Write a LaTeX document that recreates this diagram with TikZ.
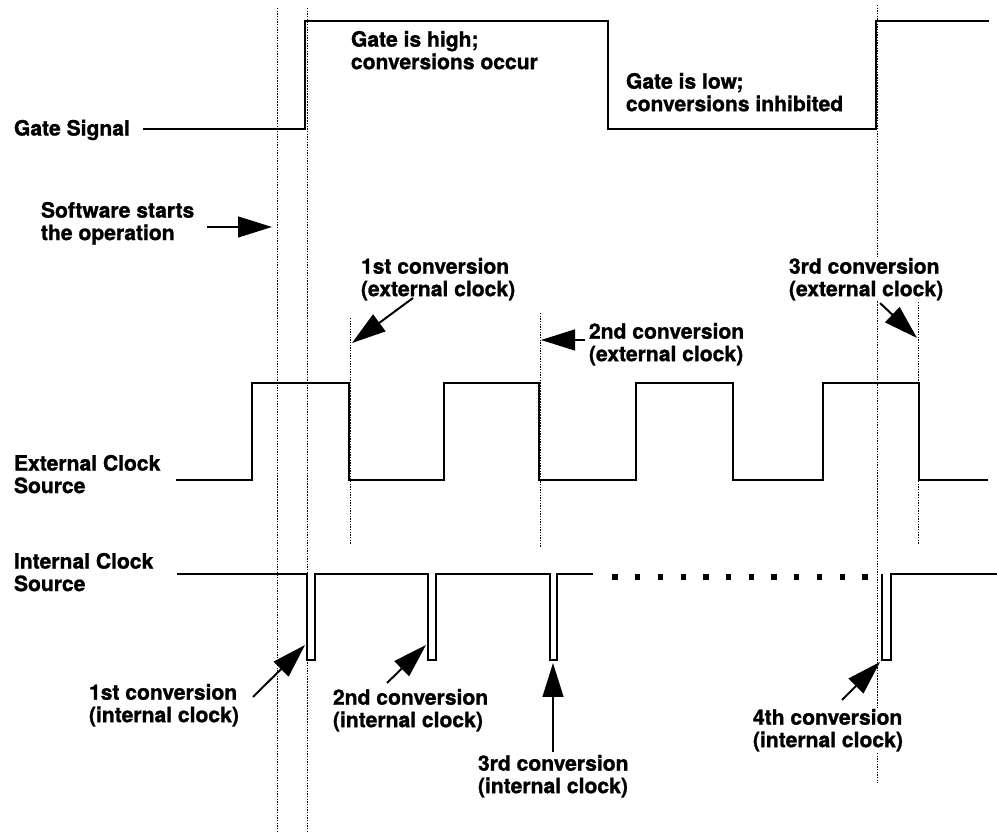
\documentclass[tikz,border=0pt]{standalone}
\usepackage{fontspec}
\setmainfont{TeX Gyre Heros}[BoldFeatures={FakeBold=1.2}]
\usetikzlibrary{arrows.meta}

\tikzset{
  sig/.style={line width=1.3pt},
  guide/.style={line width=0.6pt, dash pattern=on 1pt off 0.9pt},
  lbl/.style={font=\fontsize{15}{16}\selectfont\bfseries, align=left, inner sep=0.5pt, fill=white},
  ptr/.style={line width=1.4pt, -{Triangle[length=8.5mm, width=5.2mm]}}
}

\begin{document}
\begin{tikzpicture}
				\useasboundingbox (0, 0) rectangle (24.925, 20.825);
				% Guide lines:
				\draw[guide] (6.925, 20.625) -- (6.925, 0);
				\draw[guide] (7.675, 20.625) -- (7.675, 0);
				\draw[guide] (8.75, 12.875) -- (8.75, 7.2);
				\draw[guide] (13.5, 13.0) -- (13.5, 7.125);
				\draw[guide] (21.925, 20.7) -- (21.925, 1.25);
				\draw[guide] (22.95, 13.275) -- (22.95, 7.2);
				% Signals:
				\draw[sig] (3.575, 17.6) -- (7.625, 17.6) -- (7.625, 20.3) -- (15.2, 20.3) -- (15.2, 17.6) -- (21.9, 17.6) -- (21.9, 20.3) -- (24.725, 20.3);
				\draw[sig] (4.4, 8.825) -- (6.3, 8.825) -- (6.3, 11.25) -- (8.725, 11.25) -- (8.725, 8.825) -- (11.1, 8.825) -- (11.1, 11.25) -- (13.475, 11.25) -- (13.475, 8.825) -- (15.9, 8.825) -- (15.9, 11.25) -- (18.325, 11.25) -- (18.325, 8.825) -- (20.575, 8.825) -- (20.575, 11.25) -- (22.975, 11.25) -- (22.975, 8.825) -- (24.7, 8.825);
				\draw[sig] (4.425, 6.475) -- (7.675, 6.475) -- (7.675, 4.325) -- (7.875, 4.325) -- (7.875, 6.475) -- (10.7, 6.475) -- (10.7, 4.325) -- (10.9, 4.325) -- (10.9, 6.475) -- (13.75, 6.475) -- (13.75, 4.325) -- (13.925, 4.325) -- (13.925, 6.475) -- (14.825, 6.475);
				\draw[sig] (22.05, 6.475) -- (22.05, 4.325) -- (22.275, 4.325) -- (22.275, 6.475) -- (24.925, 6.475);
				\foreach \dx in {15.375, 15.943, 16.511, 17.080, 17.648, 18.216, 18.784, 19.352, 19.920, 20.489, 21.057, 21.625}
					\fill (\dx - 0.065, 6.335) rectangle (\dx + 0.065, 6.465);
				% Labels:
				\node[lbl, anchor=west] (gatelbl) at (0.325, 17.575) {Gate Signal};
				\node[lbl, anchor=north west] (extlbl) at (0.325, 9.475) {External Clock\\Source};
				\node[lbl, anchor=north west] (intlbl) at (0.325, 7.025) {Internal Clock\\Source};
				\node[lbl, anchor=north west] (swlbl) at (1.0, 15.8) {Software starts\\the operation};
				\node[lbl, anchor=north west] (highlbl) at (8.75, 20.075) {Gate is high;\\conversions occur};
				\node[lbl, anchor=north west] (lowlbl) at (15.625, 19.025) {Gate is low;\\conversions inhibited};
				\node[lbl, anchor=north west] (conva) at (9.0, 14.4) {1st conversion\\(external clock)};
				\node[lbl, anchor=north west] (convb) at (14.7, 12.775) {2nd conversion\\(external clock)};
				\node[lbl, anchor=north west] (convc) at (19.7, 14.4) {3rd conversion\\(external clock)};
				\node[lbl, anchor=north west] (convai) at (2.2, 3.75) {1st conversion\\(internal clock)};
				\node[lbl, anchor=north west] (convbi) at (8.3, 3.625) {2nd conversion\\(internal clock)};
				\node[lbl, anchor=north west] (convci) at (11.925, 1.975) {3rd conversion\\(internal clock)};
				\node[lbl, anchor=north west] (convdi) at (18.8, 3.125) {4th conversion\\(internal clock)};
				% Pointers:
				\coordinate (swtail) at (5.175, 15.15);
				\coordinate (swtip) at (6.8, 15.15);
				\coordinate (atail) at (10.325, 13.375);
				\coordinate (atip) at (8.8, 12.25);
				\coordinate (btail) at (14.625, 12.325);
				\coordinate (btip) at (13.525, 12.325);
				\coordinate (ctail) at (22.0, 13.25);
				\coordinate (ctip) at (22.925, 12.375);
				\coordinate (aitail) at (6.325, 3.4);
				\coordinate (aitip) at (7.625, 4.7);
				\coordinate (bitail) at (9.675, 3.75);
				\coordinate (bitip) at (10.65, 4.7);
				\coordinate (citail) at (13.825, 2.025);
				\coordinate (citip) at (13.825, 4.25);
				\coordinate (ditail) at (21.05, 3.325);
				\coordinate (ditip) at (22.0, 4.275);
				\draw[ptr] (swtail) -- (swtip);
				\draw[ptr] (atail) -- (atip);
				\draw[ptr] (btail) -- (btip);
				\draw[ptr] (ctail) -- (ctip);
				\draw[ptr] (aitail) -- (aitip);
				\draw[ptr] (bitail) -- (bitip);
				\draw[ptr] (citail) -- (citip);
				\draw[ptr] (ditail) -- (ditip);
\end{tikzpicture}
\end{document}
